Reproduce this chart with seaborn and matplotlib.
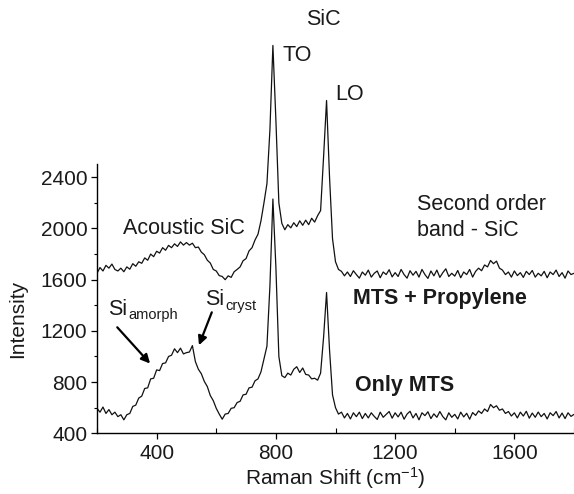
import numpy as np
import pandas as pd
import matplotlib
matplotlib.use("Agg")
import matplotlib.pyplot as plt
import seaborn as sns
from matplotlib.ticker import FixedLocator

# ---------------- data ----------------
raman_shift = list(range(200, 1801, 10))

mts_propylene = [
    1650, 1695, 1668, 1712, 1690, 1722, 1680, 1668, 1690, 1662,   # 200-290
    1700, 1682, 1725, 1705, 1740, 1728, 1770, 1752, 1800, 1780,   # 300-390
    1822, 1808, 1850, 1830, 1868, 1850, 1880, 1860, 1895, 1870,   # 400-490
    1890, 1870, 1885, 1850, 1855, 1815, 1795, 1752, 1730, 1680,   # 500-590
    1668, 1632, 1625, 1600, 1630, 1618, 1662, 1680, 1700, 1748,   # 600-690
    1765, 1825, 1850, 1910, 1955, 2060, 2200, 2350, 2770, 3430,   # 700-790
    2850, 2200, 2040, 1990, 2030, 2005, 2045, 2015, 2060, 2025,   # 800-890
    2065, 2030, 2080, 2050, 2100, 2140, 2560, 3000, 2400, 1920,   # 900-990
    1740, 1680, 1665, 1630, 1660, 1625, 1670, 1640, 1612, 1660,   # 1000-1090
    1635, 1675, 1620, 1650, 1668, 1615, 1660, 1640, 1678, 1622,   # 1100-1190
    1655, 1625, 1680, 1640, 1612, 1670, 1635, 1665, 1620, 1680,   # 1200-1290
    1640, 1610, 1668, 1630, 1675, 1618, 1655, 1685, 1625, 1650,   # 1300-1390
    1628, 1672, 1615, 1660, 1640, 1680, 1620, 1665, 1690, 1670,   # 1400-1490
    1715, 1700, 1750, 1725, 1745, 1690, 1675, 1640, 1660, 1620,   # 1500-1590
    1668, 1632, 1655, 1618, 1665, 1640, 1672, 1620, 1650, 1630,   # 1600-1690
    1665, 1615, 1660, 1640, 1675, 1625, 1655, 1612, 1668, 1640,   # 1700-1790
    1650,                                                          # 1800
]

only_mts = [
    595, 565, 605, 555, 585, 545, 565, 530, 545, 505,             # 200-290
    545, 555, 610, 620, 675, 690, 750, 755, 825, 830,             # 300-390
    895, 890, 945, 950, 1000, 1010, 1060, 1030, 1065, 1020,       # 400-490
    1030, 1035, 1085, 960, 900, 865, 805, 765, 695, 655,          # 500-590
    595, 550, 510, 550, 555, 595, 600, 640, 650, 700,             # 600-690
    705, 755, 760, 810, 825, 880, 980, 1080, 1550, 2230,          # 700-790
    1700, 1000, 850, 835, 870, 855, 900, 920, 875, 910,           # 800-890
    860, 855, 825, 830, 815, 870, 1150, 1500, 1050, 700,          # 900-990
    600, 550, 565, 520, 555, 512, 560, 530, 565, 515,             # 1000-1090
    555, 520, 560, 532, 508, 565, 525, 548, 570, 518,             # 1100-1190
    560, 528, 565, 510, 550, 572, 520, 555, 505, 560,             # 1200-1290
    538, 568, 515, 552, 525, 570, 530, 505, 560, 525,             # 1300-1390
    548, 512, 565, 528, 556, 510, 562, 540, 575, 555,             # 1400-1490
    590, 570, 625, 600, 615, 580, 590, 555, 570, 535,             # 1500-1590
    560, 520, 565, 535, 572, 518, 558, 525, 566, 530,             # 1600-1690
    555, 512, 560, 538, 570, 520, 558, 515, 560, 532,             # 1700-1790
    548,                                                           # 1800
]

sample_names = ["MTS + Propylene", "Only MTS"]
y_major = [400, 800, 1200, 1600, 2000, 2400]
y_minor = [600, 1000, 1400, 1800, 2200]
x_major = [400, 800, 1200, 1600]
x_minor = [200, 600, 1000, 1400, 1800]

df = pd.DataFrame({
    "shift": raman_shift * 2,
    "intensity": mts_propylene + only_mts,
    "sample": [sample_names[0]] * len(raman_shift) + [sample_names[1]] * len(raman_shift),
})

# ---------------- style ----------------
sns.set_theme(style="ticks")
plt.rcParams["font.family"] = ["Liberation Sans", "DejaVu Sans"]
plt.rcParams["mathtext.fontset"] = "custom"
plt.rcParams["mathtext.rm"] = "Liberation Sans"
plt.rcParams["mathtext.it"] = "Liberation Sans:italic"
plt.rcParams["mathtext.bf"] = "Liberation Sans:bold"

fig = plt.figure(figsize=(5.74, 4.94), dpi=100)
ax = fig.add_axes([0.169, 0.1229, 0.831, 0.8771])

sns.lineplot(data=df, x="shift", y="intensity", hue="sample", units="sample",
             estimator=None, palette=["#111111", "#111111"], linewidth=0.9,
             legend=False, ax=ax)

ax.set_xlim(200, 1800)
ax.set_ylim(400, 3785)

for s in ["top", "right"]:
    ax.spines[s].set_visible(False)
ax.spines["left"].set_bounds(400, 2500)
for s in ["left", "bottom"]:
    ax.spines[s].set_linewidth(1.0)
    ax.spines[s].set_color("black")

ax.yaxis.set_major_locator(FixedLocator(y_major))
ax.yaxis.set_minor_locator(FixedLocator(y_minor))
ax.xaxis.set_major_locator(FixedLocator(x_major))
ax.xaxis.set_minor_locator(FixedLocator(x_minor))
ax.tick_params(axis="both", which="major", direction="out", length=4.5, width=0.9,
               labelsize=15, colors="black", labelcolor="#1a1a1a")
ax.tick_params(axis="y", which="major", pad=2.5)
ax.tick_params(axis="x", which="major", pad=3.5)
ax.tick_params(axis="y", which="minor", direction="out", length=2.5, width=0.8, colors="black")
ax.tick_params(axis="x", which="minor", direction="in", length=3.5, width=0.8, colors="black")

ax.set_xlabel("")
ax.set_ylabel("")
fig.text(18 / 574, 1 - 319 / 494, "Intensity", rotation=90, ha="center", va="center",
         fontsize=15, color="#1a1a1a")
ax.text(1000, 400 - (478 - 433.3) / 0.128, "Raman Shift (cm$^{-1}$)", ha="center",
        va="center", fontsize=15, color="#1a1a1a", clip_on=False)

tc = "#1a1a1a"
fs = 15.5
sub_fs = 10.5
ax.text(960, 3630, "SiC", ha="center", va="center", fontsize=fs, color=tc)
ax.text(822, 3355, "TO", ha="left", va="center", fontsize=fs, color=tc)
ax.text(1000, 3044, "LO", ha="left", va="center", fontsize=fs, color=tc)
ax.text(288, 2001, "Acoustic SiC", ha="left", va="center", fontsize=fs, color=tc)
ax.text(1273, 2184, "Second order", ha="left", va="center", fontsize=fs, color=tc)
ax.text(1273, 1983, "band - SiC", ha="left", va="center", fontsize=fs, color=tc)
ax.text(1058, 1455, "MTS + Propylene", ha="left", va="center", fontsize=fs,
        fontweight="bold", color=tc)
ax.text(1064, 773, "Only MTS", ha="left", va="center", fontsize=fs,
        fontweight="bold", color=tc)

# Si (amorphous) and Si (crystalline) labels with low subscripts
ax.text(238, 1324, "Si", ha="left", va="baseline", fontsize=fs, color=tc)
ax.text(306, 1290, "amorph", ha="left", va="baseline", fontsize=sub_fs, color=tc)
ax.text(562, 1402, "Si", ha="left", va="baseline", fontsize=fs, color=tc)
ax.text(630, 1366, "cryst", ha="left", va="baseline", fontsize=sub_fs, color=tc)

arrow = dict(arrowstyle="-|>", color="black", lw=1.6, mutation_scale=13,
             shrinkA=0, shrinkB=0)
ax.annotate("", xy=(378, 945), xytext=(268, 1228), arrowprops=arrow)
ax.annotate("", xy=(542, 1088), xytext=(585, 1345), arrowprops=arrow)

fig.savefig("out.png", dpi=100)
